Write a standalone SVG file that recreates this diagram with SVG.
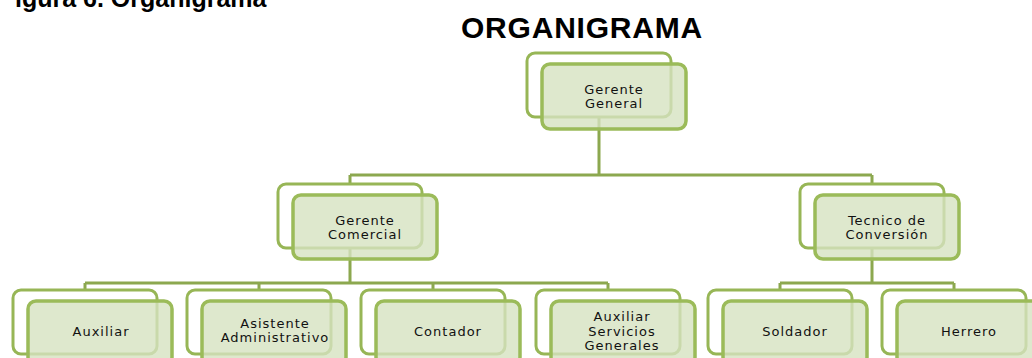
<svg xmlns="http://www.w3.org/2000/svg" width="1032" height="358" viewBox="0 0 1032 358">
<style>
.back{fill:#ffffff;stroke:#97b656;stroke-width:3}
.front{fill:#d6e2c0;fill-opacity:0.8;stroke:#9bbb59;stroke-width:3.5}
.conn{fill:none;stroke:#8ca84f;stroke-width:3}
.lbl{font-family:"DejaVu Sans",sans-serif;font-size:13px;letter-spacing:1px;fill:#111111;text-anchor:middle}
.title{font-family:"Liberation Sans",Arial,sans-serif;font-weight:bold;fill:#000}
</style>
<rect width="1032" height="358" fill="#ffffff"/>
<text class="title" x="15" y="7" font-size="25">igura 6. Organigrama</text>
<text class="title" x="582" y="38" font-size="30" text-anchor="middle" letter-spacing="0.8">ORGANIGRAMA</text>
<g id="connectors">
<path class="conn" d="M599 117V175M350 175H872M350 175V184M872 175V184"/>
<path class="conn" d="M350 248V283M85 283H608M85 283V290M259 283V290M433 283V290M608 283V290"/>
<path class="conn" d="M872 248V283M780 283H954M780 283V290M954 283V290"/>
</g>
<g id="n-gerente-general">
<rect class="back" x="527" y="53" width="144" height="64" rx="8"/>
<rect class="front" x="542" y="64" width="144" height="65" rx="8"/>
<text class="lbl" x="614" y="94">Gerente</text>
<text class="lbl" x="614" y="108">General</text>
</g>
<g id="n-gerente-comercial">
<rect class="back" x="278" y="184" width="144" height="64" rx="8"/>
<rect class="front" x="293" y="195" width="144" height="64" rx="8"/>
<text class="lbl" x="365" y="224.5">Gerente</text>
<text class="lbl" x="365" y="238.5">Comercial</text>
</g>
<g id="n-tecnico">
<rect class="back" x="800" y="184" width="144" height="64" rx="8"/>
<rect class="front" x="815" y="195" width="144" height="64" rx="8"/>
<text class="lbl" x="887" y="224.5">Tecnico de</text>
<text class="lbl" x="887" y="238.5">Conversión</text>
</g>
<g id="n-auxiliar">
<rect class="back" x="13" y="290" width="144" height="64" rx="8"/>
<rect class="front" x="28" y="301" width="144" height="64" rx="8"/>
<text class="lbl" x="101" y="336">Auxiliar</text>
</g>
<g id="n-asistente">
<rect class="back" x="187" y="290" width="144" height="64" rx="8"/>
<rect class="front" x="202" y="301" width="144" height="64" rx="8"/>
<text class="lbl" x="275" y="328">Asistente</text>
<text class="lbl" x="275" y="342">Administrativo</text>
</g>
<g id="n-contador">
<rect class="back" x="361" y="290" width="144" height="64" rx="8"/>
<rect class="front" x="376" y="301" width="144" height="64" rx="8"/>
<text class="lbl" x="448" y="336">Contador</text>
</g>
<g id="n-aux-servicios">
<rect class="back" x="536" y="290" width="144" height="64" rx="8"/>
<rect class="front" x="551" y="301" width="144" height="64" rx="8"/>
<text class="lbl" x="622" y="321">Auxiliar</text>
<text class="lbl" x="622" y="335.5">Servicios</text>
<text class="lbl" x="622" y="350">Generales</text>
</g>
<g id="n-soldador">
<rect class="back" x="708" y="290" width="144" height="64" rx="8"/>
<rect class="front" x="723" y="301" width="144" height="64" rx="8"/>
<text class="lbl" x="795" y="336">Soldador</text>
</g>
<g id="n-herrero">
<rect class="back" x="882" y="290" width="144" height="64" rx="8"/>
<rect class="front" x="897" y="301" width="144" height="64" rx="8"/>
<text class="lbl" x="969" y="336">Herrero</text>
</g>
</svg>
